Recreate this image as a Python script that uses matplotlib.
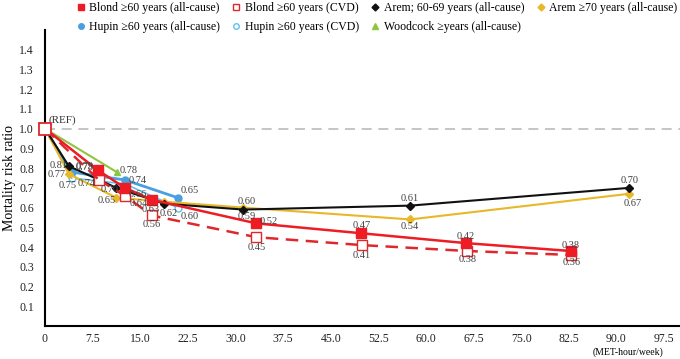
import numpy as np
import matplotlib
matplotlib.use("Agg")
import matplotlib.pyplot as plt
from matplotlib.lines import Line2D

plt.rcParams['font.family'] = ['Liberation Serif', 'DejaVu Serif']

# MET-hour/week values and risk ratios
blond_x = [0, 8.3, 12.6, 16.8, 33.3, 49.8, 66.3, 82.8]
blond_all = [1.0, 0.79, 0.70, 0.64, 0.52, 0.47, 0.42, 0.38]
blond_cvd_x = [0, 8.5, 12.6, 16.8, 33.3, 49.9, 66.5, 82.9]
blond_cvd = [1.0, 0.74, 0.66, 0.56, 0.45, 0.41, 0.38, 0.36]
arem_x = [0, 3.75, 11.25, 18.75, 31.25, 57.5, 92.0]
arem_6069 = [1.0, 0.81, 0.70, 0.62, 0.59, 0.61, 0.70]
arem_70 = [1.0, 0.77, 0.65, 0.63, 0.60, 0.54, 0.67]
hupin_x = [0, 4.2, 12.6, 20.9]
hupin_all = [1.0, 0.78, 0.74, 0.65]
hupin_cvd = [1.0, 0.75, 0.72, 0.60]
woodcock_x = [0, 11.3]
woodcock_all = [1.0, 0.78]

xticks = np.arange(0, 98, 7.5)
xticklabels = ['0'] + ['%.1f' % t for t in xticks[1:]]
yticks = np.arange(1, 15) / 10

# label offsets in pixels (dx, dy); None = no label
off_blond = [None, (-13, 4), None, (-13, -4), (12, 2), (0, 8), (0, 7), (0, 6)]
off_blond_cvd = [None, (-12, -4), (13, 1), (0, -9), (0, -10), (0, -10), (0, -8), (0, -8)]
off_arem = [None, (-10, 1), (-7, -2), (5, -10), (3, -7), (0, 7), (0, 7)]
off_arem70 = [None, (-12, 0), (-10, -3), (-13, -8), (3, 6), (0, -7), (3, -10)]
off_hupin = [None, (13, 5), (13, -1), (12, 7)]
off_hupin_cvd = [None, (-4, -8), None, (12, -9)]
off_wood = [None, (12, 2)]

fig = plt.figure(figsize=(6.8, 3.59), dpi=100)
ax = fig.add_axes([45 / 680, 1 - 326 / 359, 635 / 680, 296 / 359])

series = [
    # x, y, color, ls, lw, marker, mfc, ms, offsets, label
    (woodcock_x, woodcock_all, '#8DC641', '-', 1.5, '^', '#8DC641', 5, off_wood,
     'Woodcock \u2265years (all-cause)'),
    (hupin_x, hupin_cvd, '#62C3EA', '-', 1.2, 'o', 'white', 5, off_hupin_cvd,
     'Hupin \u226560 years (CVD)'),
    (hupin_x, hupin_all, '#4A9FDE', '-', 2.0, 'o', '#4A9FDE', 5, off_hupin,
     'Hupin \u226560 years (all-cause)'),
    (arem_x, arem_70, '#E8B828', '-', 1.5, 'D', '#E8B828', 4, off_arem70,
     'Arem \u226570 years (all-cause)'),
    (arem_x, arem_6069, '#111111', '-', 1.5, 'D', '#111111', 4, off_arem,
     'Arem; 60-69 years (all-cause)'),
    (blond_cvd_x, blond_cvd, '#E0282C', (0, (5, 3)), 1.8, 's', 'white', 7, off_blond_cvd,
     'Blond \u226560 years (CVD)'),
    (blond_x, blond_all, '#EE1C24', '-', 1.8, 's', '#EE1C24', 7, off_blond,
     'Blond \u226560 years (all-cause)'),
]

handles = {}
for i, (xs, ys, col, ls, lw, mk, mfc, ms, offs, lab) in enumerate(series):
    ax.plot(xs[1:], ys[1:], color=col, ls=ls, lw=lw, marker=mk, mfc=mfc,
            mec=col, ms=ms, zorder=3 + i)
    ax.plot(xs[:2], ys[:2], color=col, ls=ls, lw=lw, zorder=3 + i)
    for xv, yv, off in zip(xs, ys, offs):
        if off is None:
            continue
        ax.annotate('%.2f' % yv, (xv, yv), xytext=off, textcoords='offset pixels',
                    ha='center', va='center', fontsize=7.5, color='#404040', zorder=20)
    handles[lab] = Line2D([], [], ls='none', marker=mk, mfc=mfc, mec=col,
                          ms=4 if mk != 'D' else 3.5, label=lab)

# reference point
ax.axhline(1.0, color='#BBBBBB', lw=1.2, ls=(0, (6, 4)), zorder=1)
ax.plot([0], [1.0], marker='s', ms=8, mfc='white', mec='#E0282C', mew=1.3,
        clip_on=False, zorder=30)
ax.annotate('(REF)', (0, 1.0), xytext=(17, 8), textcoords='offset pixels',
            ha='center', va='center', fontsize=8, color='#333333')

ax.set_xlim(0, 100)
ax.set_ylim(0, 1.5)
ax.set_xticks(xticks)
ax.set_xticklabels(xticklabels)
ax.set_yticks(yticks)
ax.set_yticklabels(['%.1f' % t for t in yticks])
ax.tick_params(length=0, labelsize=8.5, colors='#222222')
ax.tick_params(axis='x', pad=5)
ax.tick_params(axis='y', pad=8)
for s in ['top', 'right']:
    ax.spines[s].set_visible(False)
ax.spines['left'].set_linewidth(1.5)
ax.spines['bottom'].set_linewidth(1.5)
ax.set_ylabel('Mortality risk ratio', fontsize=10, labelpad=2)
fig.text(0.975, 0.02, '(MET-hour/week)', ha='right', va='center', fontsize=7)

order = ['Blond \u226560 years (all-cause)', 'Hupin \u226560 years (all-cause)',
         'Blond \u226560 years (CVD)', 'Hupin \u226560 years (CVD)',
         'Arem; 60-69 years (all-cause)', 'Woodcock \u2265years (all-cause)',
         'Arem \u226570 years (all-cause)']
fig.legend([handles[k] for k in order], order, ncol=4, loc='upper left',
           bbox_to_anchor=(0.098, 1.025), frameon=False, fontsize=8.5,
           handlelength=0.6, handletextpad=0.4, columnspacing=1.1, labelspacing=0.6)

fig.savefig('out.png', dpi=100)
